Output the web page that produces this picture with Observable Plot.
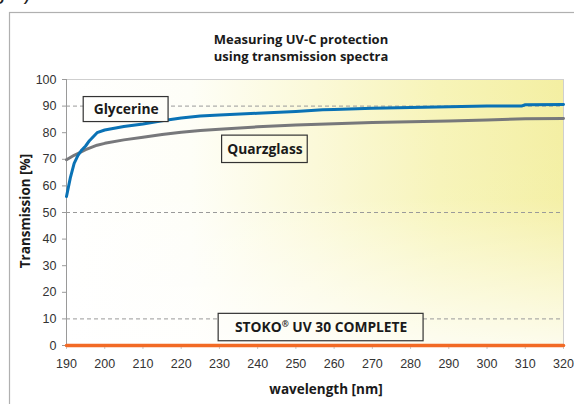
<!DOCTYPE html>
<html>
<head>
<meta charset="utf-8">
<script src="https://cdn.jsdelivr.net/npm/d3@7"></script>
<script src="https://cdn.jsdelivr.net/npm/@observablehq/plot@0.6"></script>
<style>
  html, body { margin: 0; padding: 0; background: #ffffff; }
  #chart { position: relative; width: 574px; height: 404px; overflow: hidden; }
</style>
</head>
<body>
<div id="chart"></div>
<script>
// ---- data ----
const titleLines = ["Measuring UV-C protection", "using transmission spectra"];
const xLabel = "wavelength [nm]";
const yLabel = "Transmission [%]";
const xTicks = [190, 200, 210, 220, 230, 240, 250, 260, 270, 280, 290, 300, 310, 320];
const yTicks = [0, 10, 20, 30, 40, 50, 60, 70, 80, 90, 100];
const gridValues = [10, 50, 90];

const glycerineWl = [190, 191, 192, 193, 194, 195, 196, 197, 198, 200, 205, 210, 215, 220, 225, 230, 240, 250, 257, 260, 270, 280, 290, 300, 309, 310, 320];
const glycerineT  = [56, 63, 68.5, 71.5, 73.5, 75, 77, 78.5, 80, 81, 82.3, 83.3, 84.5, 85.5, 86.3, 86.7, 87.3, 88, 88.6, 88.7, 89.2, 89.5, 89.8, 90, 90, 90.5, 90.6];

const quarzWl = [190, 192, 195, 198, 200, 205, 210, 215, 220, 225, 230, 240, 250, 260, 270, 280, 290, 300, 310, 320];
const quarzT  = [69.8, 71.5, 73.6, 75.3, 76, 77.3, 78.3, 79.3, 80.2, 80.8, 81.3, 82.2, 82.9, 83.4, 83.8, 84.1, 84.4, 84.8, 85.2, 85.3];

const stokoWl = [190, 320];
const stokoT  = [0, 0];

// label boxes (data coordinates: wavelength / transmission)
const labelText = ["Glycerine", "Quarzglass", "STOKO® UV 30 COMPLETE"];
const labelX1 = [194.5, 230.7, 229.8];
const labelX2 = [216.7, 253.1, 283.4];
const labelY1 = [84.0, 68.6, 1.6];
const labelY2 = [93.4, 78.9, 11.9];

// ---- build ----
const series = [
  ...glycerineWl.map((w, i) => ({wl: w, t: glycerineT[i], s: "Glycerine"})),
  ...quarzWl.map((w, i) => ({wl: w, t: quarzT[i], s: "Quarzglass"})),
  ...stokoWl.map((w, i) => ({wl: w, t: stokoT[i], s: "STOKO"}))
];
const labels = labelText.map((t, i) => ({
  text: t, x1: labelX1[i], x2: labelX2[i], y1: labelY1[i], y2: labelY2[i],
  xc: (labelX1[i] + labelX2[i]) / 2, yc: (labelY1[i] + labelY2[i]) / 2
}));

const labelFont = "'Open Sans', 'Noto Sans', sans-serif";

const plot = Plot.plot({
  width: 574,
  height: 404,
  marginLeft: 66,
  marginRight: 11,
  marginTop: 79,
  marginBottom: 59,
  style: {fontFamily: "'Liberation Sans', Arial, sans-serif", fontSize: "12.5px", color: "#333", background: "transparent", overflow: "visible"},
  x: {domain: [190, 320]},
  y: {domain: [0, 100]},
  marks: [
    Plot.frame({fill: "url(#bgH)"}),
    Plot.frame({fill: "url(#bgV)"}),
    Plot.ruleY(gridValues, {stroke: "#9a9a9a", strokeDasharray: "4,3", strokeWidth: 1}),
    Plot.frame({stroke: "#cfcfcf"}),
    Plot.ruleX([190], {stroke: "#9a9a9a"}),
    Plot.axisY({ticks: yTicks, tickSize: 4, tickPadding: 6, label: null, stroke: "#9a9a9a"}),
    Plot.axisX({ticks: xTicks, tickSize: 4, tickPadding: 10, label: null, stroke: "#c8c8c8"}),
    Plot.line(series.filter(d => d.s === "Quarzglass"), {x: "wl", y: "t", stroke: "#77787b", strokeWidth: 3}),
    Plot.line(series.filter(d => d.s === "Glycerine"), {x: "wl", y: "t", stroke: "#0a72b5", strokeWidth: 3}),
    Plot.line(series.filter(d => d.s === "STOKO"), {x: "wl", y: "t", stroke: "#f26a25", strokeWidth: 3.5}),
    Plot.rect(labels, {x1: "x1", x2: "x2", y1: "y1", y2: "y2", fill: "url(#bgH)"}),
    Plot.rect(labels, {x1: "x1", x2: "x2", y1: "y1", y2: "y2", fill: "url(#bgV)", stroke: "#333", strokeWidth: 1.2}),
    Plot.text(labels, {x: "xc", y: "yc", text: "text", fontWeight: "bold", fontSize: 13.8, fontFamily: labelFont, fill: "#1a1a1a", className: "boxlabel"})
  ]
});

const svg = d3.select(plot);
const defs = svg.insert("defs", ":first-child");
const gH = defs.append("linearGradient").attr("id", "bgH")
  .attr("gradientUnits", "userSpaceOnUse").attr("x1", 66).attr("x2", 563).attr("y1", 0).attr("y2", 0);
[[0, "#ffffff"], [0.25, "#fefef7"], [0.5, "#fbf9d8"], [0.75, "#f7f4b8"], [1, "#f4efa2"]]
  .forEach(([o, c]) => gH.append("stop").attr("offset", o).attr("stop-color", c));
const gV = defs.append("linearGradient").attr("id", "bgV")
  .attr("gradientUnits", "userSpaceOnUse").attr("x1", 0).attr("x2", 0).attr("y1", 79).attr("y2", 345);
[[0, 0], [0.45, 0.05], [1, 0.8]]
  .forEach(([o, a]) => gV.append("stop").attr("offset", o).attr("stop-color", "#ffffff").attr("stop-opacity", a));

// superscript registered sign in the box labels
svg.selectAll(".boxlabel text").each(function() {
  const el = d3.select(this);
  const t = el.text();
  if (t.includes("®")) {
    const [a, b] = t.split("®");
    el.text(null);
    el.append("tspan").text(a);
    el.append("tspan").attr("font-size", 8.5).attr("dy", -5).text("®");
    el.append("tspan").attr("dy", 5).text(b);
  }
});

// outer frame
svg.insert("rect", "defs + *")
  .attr("x", 9.5).attr("y", 12.5).attr("width", 700).attr("height", 600)
  .attr("fill", "none").attr("stroke", "#b0b0b0").attr("stroke-width", 1.2);

// cut-off caption at the top
svg.append("text").attr("x", 2).attr("y", -1).attr("font-size", 22)
  .attr("font-family", "'Liberation Sans', Arial, sans-serif").attr("fill", "#222").text("(right)");

// title
titleLines.forEach((t, i) => {
  svg.append("text").attr("x", 301).attr("y", 44 + i * 17).attr("text-anchor", "middle")
    .attr("font-family", labelFont).attr("font-weight", "bold").attr("font-size", 13)
    .attr("fill", "#1a1a1a").text(t);
});
// axis labels
svg.append("text").attr("x", 326).attr("y", 394).attr("text-anchor", "middle")
  .attr("font-family", labelFont).attr("font-weight", "bold").attr("font-size", 13.5)
  .attr("fill", "#1a1a1a").text(xLabel);
svg.append("text").attr("transform", "translate(30,211) rotate(-90)").attr("text-anchor", "middle")
  .attr("font-family", labelFont).attr("font-weight", "bold").attr("font-size", 13.5)
  .attr("fill", "#1a1a1a").text(yLabel);

document.getElementById("chart").appendChild(plot);
</script>
</body>
</html>
